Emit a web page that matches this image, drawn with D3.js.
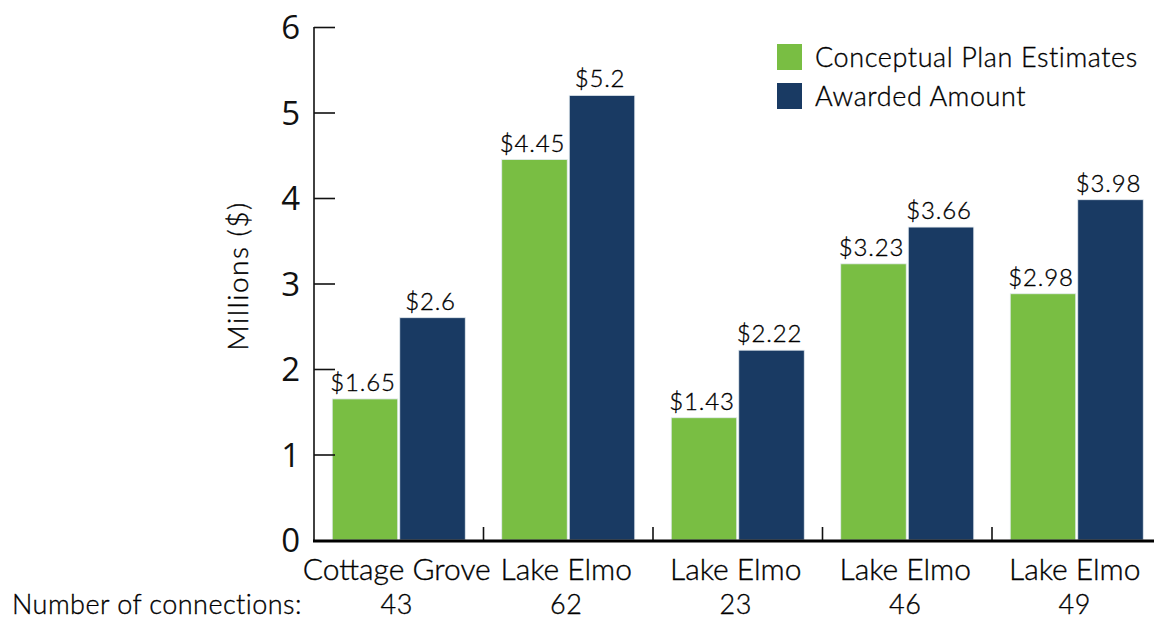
<!DOCTYPE html>
<html><head><meta charset="utf-8">
<script src="https://cdn.jsdelivr.net/npm/d3@7"></script>
<style>
html,body{margin:0;padding:0;background:#fff;}
svg{display:block;}
</style></head>
<body>
<svg id="chart" width="1154" height="620"></svg>
<script>
const categories = ["Cottage Grove", "Lake Elmo", "Lake Elmo", "Lake Elmo", "Lake Elmo"];
const connections = ["43", "62", "23", "46", "49"];
const seriesNames = ["Conceptual Plan Estimates", "Awarded Amount"];
const conceptual = [1.65, 4.45, 1.43, 3.23, 2.88];
const awarded = [2.6, 5.2, 2.22, 3.66, 3.98];
const conceptualLabels = ["$1.65", "$4.45", "$1.43", "$3.23", "$2.98"];
const awardedLabels = ["$2.6", "$5.2", "$2.22", "$3.66", "$3.98"];
const yTicks = [0, 1, 2, 3, 4, 5, 6];
const colors = ["#79be43", "#193a63"];

(function () {
const svg = d3.select("#chart");
const mLeft = 314, mBottom = 540, mTop = 27;
const x0 = d3.scaleBand().domain(d3.range(categories.length)).range([mLeft, mLeft + 169.5 * 5]).padding(0);
const x1 = d3.scaleBand().domain([0, 1]).range([0, x0.bandwidth()]).paddingInner(0.03).paddingOuter(0.27);
const y = d3.scaleLinear().domain([0, 6]).range([mBottom, mTop]);

const labelFont = "Lato, 'Open Sans', sans-serif";
const tickFont = "'Open Sans', 'Noto Sans', sans-serif";
const ink = "#000";
const fw = 300;

const series = [conceptual, awarded];
const labels = [conceptualLabels, awardedLabels];
series.forEach((vals, s) => {
  svg.append("g").selectAll("rect").data(vals).join("rect")
    .attr("x", (d, i) => x0(i) + x1(s))
    .attr("y", d => y(d))
    .attr("width", x1.bandwidth())
    .attr("height", d => y(0) - y(d))
    .attr("fill", colors[s])
    .attr("stroke", "#e4ebf0")
    .attr("stroke-width", 0.8);
  svg.append("g").selectAll("text").data(vals).join("text")
    .attr("x", (d, i) => x0(i) + x1(s) + x1.bandwidth() / 2 - 2)
    .attr("y", d => y(d) - 8)
    .attr("text-anchor", "middle")
    .attr("font-family", labelFont)
    .attr("font-weight", fw)
    .attr("font-size", 24)
    .attr("letter-spacing", 0.8)
    .attr("fill", ink)
    .attr("stroke", ink).attr("stroke-width", 0.35)
    .text((d, i) => labels[s][i]);
});

const yAxis = d3.axisLeft(y).tickValues(yTicks).tickSize(-21).tickPadding(14).tickFormat(d3.format("d"));
const gy = svg.append("g").attr("transform", `translate(${mLeft},0)`).call(yAxis);
gy.select(".domain").attr("stroke", "#111").attr("stroke-width", 1.6).attr("d", `M0,${mTop}V${mBottom}`);
gy.selectAll(".tick line").attr("stroke", "#111").attr("stroke-width", 1.6);
gy.selectAll(".tick").filter(d => d === 0).select("line").remove();
gy.selectAll(".tick text").attr("font-family", tickFont).attr("font-size", 33).attr("fill", "#111").attr("dy", "0.36em");

svg.append("line").attr("x1", mLeft - 1).attr("x2", 1160).attr("y1", mBottom + 1).attr("y2", mBottom + 1)
  .attr("stroke", "#000").attr("stroke-width", 3);
svg.append("g").selectAll("line").data(d3.range(1, categories.length)).join("line")
  .attr("x1", i => x0(i)).attr("x2", i => x0(i))
  .attr("y1", mBottom).attr("y2", mBottom - 13)
  .attr("stroke", "#111").attr("stroke-width", 1.6);

function style(sel, size, ls) {
  return sel.attr("font-family", labelFont).attr("font-weight", fw).attr("font-size", size)
    .attr("letter-spacing", ls).attr("fill", ink).attr("stroke", ink).attr("stroke-width", 0.35);
}

style(svg.append("g").selectAll("text").data(categories).join("text")
  .attr("x", (d, i) => x0(i) + x0.bandwidth() / 2 - 2)
  .attr("y", 580)
  .attr("text-anchor", "middle"), 30, 0)
  .text(d => d);
style(svg.append("g").selectAll("text").data(connections).join("text")
  .attr("x", (d, i) => x0(i) + x0.bandwidth() / 2 - 2)
  .attr("y", 614)
  .attr("text-anchor", "middle"), 27, 0.5)
  .text(d => d);
style(svg.append("text").attr("x", 12).attr("y", 614), 27, 0.45)
  .text("Number of connections:");

style(svg.append("text").attr("transform", "translate(248,276) rotate(-90)")
  .attr("text-anchor", "middle"), 28, 1.5)
  .text("Millions ($)");

const lg = svg.append("g").attr("transform", "translate(777,44)");
seriesNames.forEach((n, i) => {
  lg.append("rect").attr("x", 0).attr("y", i * 39).attr("width", 25).attr("height", 26).attr("fill", colors[i]);
  style(lg.append("text").attr("x", 38).attr("y", i * 39 + 14).attr("dy", "0.35em"), 27, 0.6).text(n);
});
})();
</script>
</body></html>
